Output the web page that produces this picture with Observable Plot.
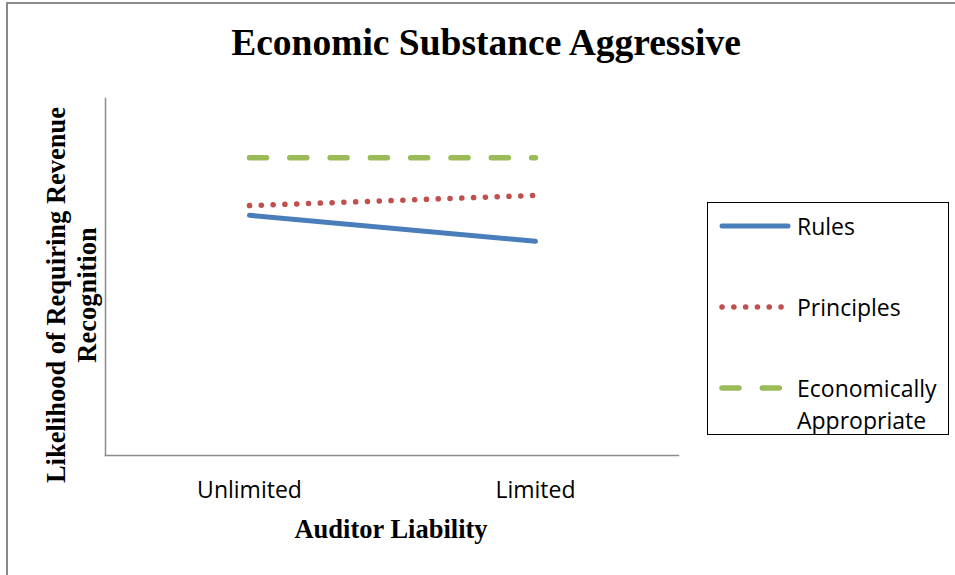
<!DOCTYPE html>
<html>
<head>
<meta charset="utf-8">
<script src="https://cdn.jsdelivr.net/npm/d3@7"></script>
<script src="https://cdn.jsdelivr.net/npm/@observablehq/plot@0.6"></script>
<style>
  html, body { margin: 0; padding: 0; background: #fff; }
  #wrap { position: relative; width: 955px; height: 575px; overflow: hidden; background: #fff; }
  #edge { position: absolute; left: 6px; top: 2px; width: 960px; height: 580px; border-top: 2px solid #8a8a8a; border-left: 2px solid #8a8a8a; box-sizing: border-box; }
  #chart { position: absolute; left: 0; top: 0; }
  .serif { font-family: "Liberation Serif", "Times New Roman", serif; font-weight: bold; color: #000; position: absolute; white-space: nowrap; }
  #title { font-size: 37.5px; left: 486px; top: 21px; transform: translateX(-50%); }
  #xtitle { font-size: 26.5px; left: 391px; top: 514px; transform: translateX(-50%); }
  #ytitle { font-size: 26.5px; left: 72px; top: 295px; transform: translate(-50%, -50%) rotate(-90deg); text-align: center; line-height: 31px; }
  #legend { position: absolute; left: 707px; top: 202px; width: 242px; height: 233px; border: 1.5px solid #000; box-sizing: border-box; font-family: "Open Sans", sans-serif; font-size: 23px; color: #000; }
  .item { position: absolute; left: 11px; display: flex; align-items: flex-start; }
  .item svg { flex: none; }
  .item span { margin-left: 6px; line-height: 32px; }
</style>
</head>
<body>
<div id="wrap">
  <div id="edge"></div>
  <div id="chart"></div>
  <div id="title" class="serif">Economic Substance Aggressive</div>
  <div id="ytitle" class="serif">Likelihood of Requiring Revenue<br>Recognition</div>
  <div id="xtitle" class="serif">Auditor Liability</div>
  <div id="legend"></div>
</div>
<script>
// ---- data (y axis unlabeled) ----
const categories = ["Unlimited", "Limited"];
const seriesNames = ["Rules", "Principles", "Economically Appropriate"];
const rulesValues = [4.71, 4.20];
const principlesValues = [4.90, 5.10];
const economicValues = [5.84, 5.84];
const yDomain = [0, 7];

// ---- styles ----
const styles = {
  "Rules": { stroke: "#4a7ebb", strokeWidth: 5, dash: null },
  "Principles": { stroke: "#c0504d", strokeWidth: 5.5, dash: "0.1 11.7" },
  "Economically Appropriate": { stroke: "#9bbb59", strokeWidth: 5.5, dash: "17 23.3" }
};

const valueLists = [rulesValues, principlesValues, economicValues];
const rows = [];
seriesNames.forEach((s, i) => {
  categories.forEach((c, j) => rows.push({ series: s, category: c, value: valueLists[i][j] }));
});

const lineMarks = seriesNames.map(s => Plot.line(rows.filter(d => d.series === s), {
  x: "category", y: "value",
  stroke: styles[s].stroke,
  strokeWidth: styles[s].strokeWidth,
  strokeDasharray: styles[s].dash,
  strokeLinecap: "round",
  strokeLinejoin: "round"
}));

const chart = Plot.plot({
  width: 955,
  height: 575,
  marginLeft: 105,
  marginRight: 277,
  marginTop: 98,
  marginBottom: 120,
  style: { background: "transparent" },
  x: { type: "point", domain: categories, padding: 0.5 },
  y: { domain: yDomain, axis: null },
  marks: [
    Plot.frame({ anchor: "left", stroke: "#8c8c8c", strokeWidth: 1.5 }),
    Plot.frame({ anchor: "bottom", stroke: "#8c8c8c", strokeWidth: 1.5 }),
    Plot.axisX({ tickSize: 0, tickPadding: 26.5, fontSize: 23, fontFamily: "Open Sans, sans-serif", fill: "#000", label: null }),
    ...lineMarks
  ]
});
document.getElementById("chart").appendChild(chart);

// ---- legend ----
const legend = document.getElementById("legend");
const legendTops = [6.5, 87.5, 168.5];
seriesNames.forEach((s, i) => {
  const item = document.createElement("div");
  item.className = "item";
  item.style.top = legendTops[i] + "px";
  const st = styles[s];
  const svg = d3.create("svg").attr("width", 72).attr("height", 32);
  svg.append("line").attr("x1", 3).attr("x2", 69).attr("y1", 16).attr("y2", 16)
    .attr("stroke", st.stroke).attr("stroke-width", st.strokeWidth)
    .attr("stroke-linecap", "round")
    .attr("stroke-dasharray", i === 1 ? "0.1 11.7" : (i === 2 ? "17 23.3" : null));
  item.appendChild(svg.node());
  const label = document.createElement("span");
  label.innerHTML = i === 2 ? "Economically<br>Appropriate" : s;
  item.appendChild(label);
  legend.appendChild(item);
});
</script>
</body>
</html>
